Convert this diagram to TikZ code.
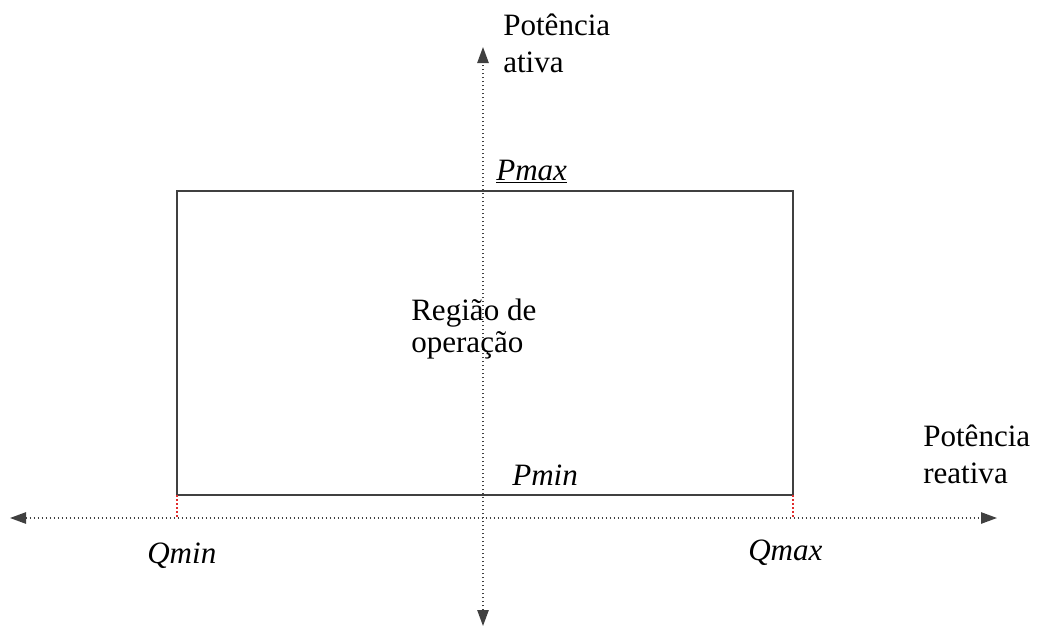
\documentclass[tikz,border=0pt]{standalone}
\usepackage{fontspec}
\setmainfont{Liberation Serif}
\usetikzlibrary{positioning}
\usetikzlibrary{arrows.meta}
\definecolor{axisgray}{RGB}{64,64,64}
\definecolor{limitred}{RGB}{225,45,45}
\tikzset{axis line/.style={axisgray, line width=1.2pt, dash pattern=on 1.2pt off 1.8pt, {Triangle[length=12pt,width=8.5pt]}-{Triangle[length=12pt,width=8.5pt]}},
	limit line/.style={limitred, line width=1.3pt, dash pattern=on 1.5pt off 1.5pt},
	box line/.style={axisgray, line width=1.5pt},
	label text/.style={anchor=base west, inner sep=0pt, align=left, font=\fontsize{23.3}{27.5}\selectfont},}

\begin{document}
\begin{tikzpicture}[x=0.75pt, y=-0.75pt]
	\useasboundingbox (0,0) rectangle (1039,628);
	% axes
	\coordinate (origin) at (483,518);
	\coordinate (qneg) at (10,518);
	\coordinate (qpos) at (997,518);
	\coordinate (ppos) at (483,47);
	\coordinate (pneg) at (483,626);
	\draw[axis line] (qneg) -- (qpos);
	\draw[axis line] (pneg) -- (ppos);

	% operating region
	\coordinate (corner a) at (177,191);
	\coordinate (corner b) at (793,495);
	\draw[box line] (corner a) rectangle (corner b);
	\draw[limit line] (corner a |- corner b) -- (corner a |- origin);
	\draw[limit line] (corner b) -- (corner b |- origin);

	% labels (base = last line)
	\node[label text] (pname) at (503,72) {Potência\\ativa};
	\node[label text] (pmax) at (496,180) {\underline{\textit{Pmax}}};
	\node[label text, font=\fontsize{23.3}{24}\selectfont] (region) at (411,352) {Região de\\operação};
	\node[label text] (pmin) at (512,485) {\textit{Pmin}};
	\node[label text] (qname) at (923,483) {Potência\\reativa};
	\node[label text] (qmin) at (147,563) {\textit{Qmin}};
	\node[label text] (qmax) at (748,560) {\textit{Qmax}};
\end{tikzpicture}
\end{document}
